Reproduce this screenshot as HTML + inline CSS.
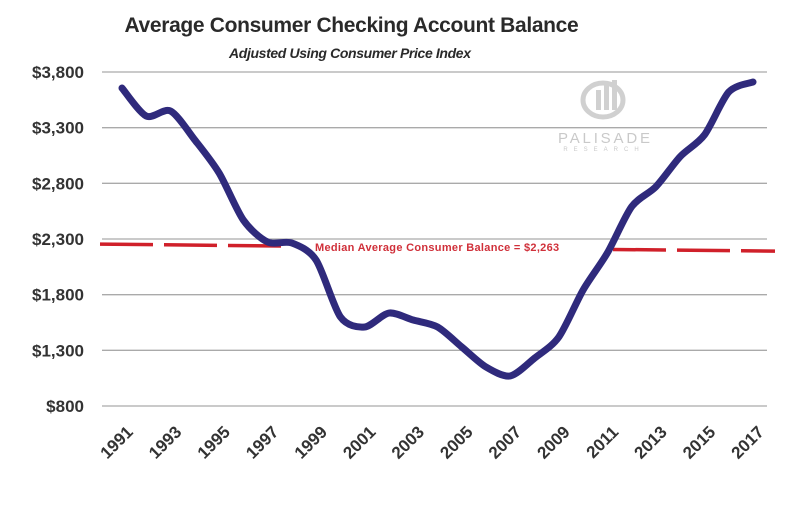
<!DOCTYPE html>
<html><head><meta charset="utf-8"><style>
body{margin:0;background:#fff;}
svg{display:block;font-family:"Liberation Sans",sans-serif;}
</style></head><body>
<svg id="chart" width="801" height="532" viewBox="0 0 801 532">
<text x="352" y="32" text-anchor="middle" font-size="21" font-weight="bold" fill="#2a2a2a" letter-spacing="0.8" textLength="455">Average Consumer Checking Account Balance</text>
<text x="350" y="58" text-anchor="middle" font-size="14" font-weight="bold" font-style="italic" fill="#2a2a2a" textLength="242">Adjusted Using Consumer Price Index</text>
<g opacity="0.45">
<ellipse cx="603" cy="100" rx="20" ry="17" fill="none" stroke="#999" stroke-width="5"/>
<rect x="596" y="90" width="5" height="20" fill="#999"/><rect x="604" y="84" width="5" height="26" fill="#999"/><rect x="612" y="80" width="5" height="30" fill="#999"/>
<text x="604" y="143" text-anchor="middle" font-size="15" fill="#888" textLength="92">PALISADE</text>
<text x="604" y="151" text-anchor="middle" font-size="6" fill="#888" letter-spacing="6">RESEARCH</text>
</g>
<g id="grid"></g><g id="median"></g><g id="series"></g><g id="labels"></g>
</svg>
<script>
const years=[1991,1992,1993,1994,1995,1996,1997,1998,1999,2000,2001,2002,2003,2004,2005,2006,2007,2008,2009,2010,2011,2012,2013,2014,2015,2016,2017];
const balances=[3656,3404,3450,3190,2893,2470,2273,2264,2110,1600,1510,1635,1572,1510,1330,1150,1070,1230,1420,1842,2175,2590,2770,3040,3235,3620,3710];
const yTicks=[800,1300,1800,2300,2800,3300,3800];
const yTickLabels=["$800","$1,300","$1,800","$2,300","$2,800","$3,300","$3,800"];
const xTickYears=[1991,1993,1995,1997,1999,2001,2003,2005,2007,2009,2011,2013,2015,2017];
const medianValue=2263;
const medianLabel="Median Average Consumer Balance = $2,263";
const NS="http://www.w3.org/2000/svg";
const x=yr=>122+(yr-1991)*(753-122)/26;
const y=v=>406-(v-800)*(334/3000);
function mk(tag,attrs,parent){const e=document.createElementNS(NS,tag);for(const k in attrs)e.setAttribute(k,attrs[k]);parent.appendChild(e);return e;}
const grid=document.getElementById('grid'),labels=document.getElementById('labels');
yTicks.forEach((t,i)=>{
 const l=mk('line',{x1:102,x2:767,y1:y(t),y2:y(t),stroke:'#aaa','stroke-width':1.3},grid);
 
 
 const tx=mk('text',{x:84,y:y(t)+6,'text-anchor':'end','font-size':17,'font-weight':'bold',fill:'#333'},labels);
 tx.textContent=yTickLabels[i];
 
 
});
xTickYears.forEach(yr=>{
 const tx=mk('text',{x:0,y:0,'text-anchor':'end','font-size':17,'font-weight':'bold',fill:'#333',transform:`translate(${x(yr)+12},${433}) rotate(-45)`},labels);
 tx.textContent=yr;
 
 
});
const med=document.getElementById('median');
const my=y(medianValue);
[[100,291],[613,775]].forEach(([a,b])=>{
 const l=mk('line',{x1:a,x2:b,y1:my+1+(a-100)*0.0104,y2:my+1+(b-100)*0.0104,stroke:'#d0202a','stroke-width':3.5,'stroke-dasharray':'53,11'},med);
 
 
});
const ml=mk('text',{x:315,y:my+8,'font-size':11,'font-weight':'bold',fill:'#d0303a','letter-spacing':'0.3'},med);
ml.textContent=medianLabel;


const pts=years.map((yr,i)=>[x(yr),y(balances[i])]);
let d=`M${pts[0][0]},${pts[0][1]}`;
for(let i=0;i<pts.length-1;i++){
 const p0=pts[i-1]||pts[i],p1=pts[i],p2=pts[i+1],p3=pts[i+2]||p2,t=0.14;
 d+=` C${p1[0]+(p2[0]-p0[0])*t},${p1[1]+(p2[1]-p0[1])*t} ${p2[0]-(p3[0]-p1[0])*t},${p2[1]-(p3[1]-p1[1])*t} ${p2[0]},${p2[1]}`;
}
const path=mk('path',{d:d,fill:'none',stroke:'#2f2a7c','stroke-width':7,'stroke-linecap':'round','stroke-linejoin':'round'},document.getElementById('series'));


</script>
</body></html>
